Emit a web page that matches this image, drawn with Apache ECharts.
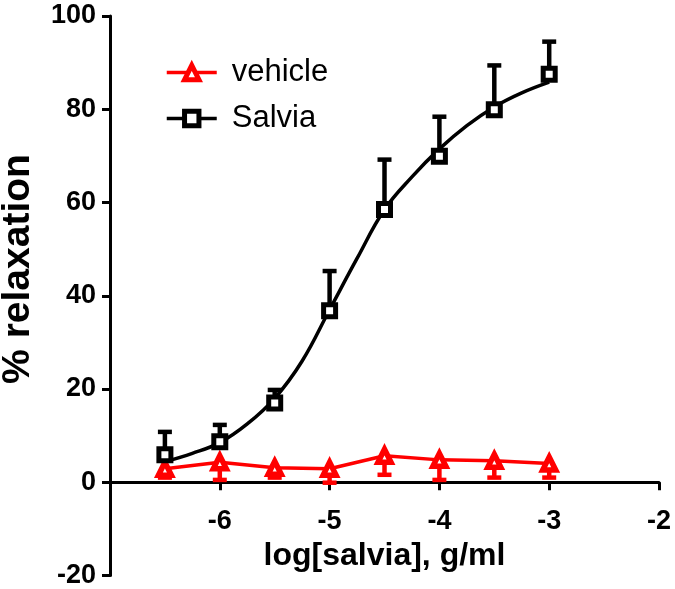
<!DOCTYPE html>
<html>
<head>
<meta charset="utf-8">
<script src="https://cdn.jsdelivr.net/npm/echarts@6/dist/echarts.min.js"></script>
<style>
html,body{margin:0;padding:0;background:#fff;}
#chart{width:675px;height:589px;}
</style>
</head>
<body>
<div id="chart"></div>
<script>
// ---- data ----
var xVals = [-6.5, -6, -5.5, -5, -4.5, -4, -3.5, -3];
var salviaMean = [5.9, 8.7, 17.0, 36.8, 58.5, 69.9, 79.9, 87.5];
var salviaSem  = [4.9, 3.6, 2.8, 8.5, 10.7, 8.5, 9.5, 7.0];
var vehicleMean = [2.9, 4.3, 3.1, 2.9, 5.7, 4.8, 4.6, 4.0];
var vehicleSem  = [1.9, 3.8, 2.1, 3.0, 4.1, 4.3, 3.6, 3.0];
// fitted curve for Salvia
var fitX = [-6.5, -6.25, -6, -5.75, -5.5, -5.25, -5, -4.75, -4.5, -4.25, -4, -3.75, -3.5, -3.25, -3];
var fitY = [4.4, 6.2, 8.5, 12.5, 18.0, 26.0, 37.0, 48.0, 58.5, 65.5, 71.5, 76.5, 80.5, 83.5, 85.8];
var xRange = [-7, -2];
var yRange = [-20, 100];

var FONT = '"Liberation Sans", Arial, Helvetica, sans-serif';
var W = 675, H = 589;
var GRID = { left: 110, right: 16, top: 16, bottom: 13.5 };
// x axis crosses the y axis at 0: shift it up from the grid bottom
var gridH = H - GRID.top - GRID.bottom;
var xOffset = -gridH * (0 - yRange[0]) / (yRange[1] - yRange[0]);

function zip(a, b, c) {
  return a.map(function (v, i) { return c ? [v, b[i], c[i]] : [v, b[i]]; });
}

function errRender(dir, color) {
  return function (params, api) {
    var x = api.value(0), y = api.value(1), e = api.value(2);
    var p0 = api.coord([x, y]);
    var p1 = api.coord([x, y + dir * e]);
    return {
      type: 'group',
      children: [
        { type: 'line', shape: { x1: p0[0], y1: p0[1], x2: p1[0], y2: p1[1] },
          style: { stroke: color, lineWidth: 4.5 } },
        { type: 'line', shape: { x1: p1[0] - 7, y1: p1[1], x2: p1[0] + 7, y2: p1[1] },
          style: { stroke: color, lineWidth: 4.5 } }
      ]
    };
  };
}

var chart = echarts.init(document.getElementById('chart'), null, { renderer: 'canvas' });

chart.setOption({
  animation: false,
  backgroundColor: '#fff',
  grid: { left: GRID.left, right: GRID.right, top: GRID.top, bottom: GRID.bottom,
          containLabel: false, outerBoundsMode: 'none' },
  legend: {
    left: 165, top: 57, orient: 'vertical', padding: 0,
    itemWidth: 50, itemHeight: 18, itemGap: 15,
    textStyle: { fontFamily: FONT, fontSize: 31, color: '#000', padding: [0, 0, 0, 10] },
    data: [
      { name: 'vehicle', itemStyle: { borderWidth: 5 }, lineStyle: { width: 3.5, color: '#ff0000' } },
      { name: 'Salvia', itemStyle: { borderWidth: 5 }, lineStyle: { opacity: 1, width: 3.5, color: '#000' } }
    ]
  },
  graphic: [{
    type: 'text', x: 18, y: 269, rotation: Math.PI / 2,
    style: { text: '% relaxation', font: 'bold 39px ' + FONT, fill: '#000',
             align: 'center', verticalAlign: 'middle' }
  }],
  xAxis: {
    type: 'value', min: xRange[0], max: xRange[1], interval: 1,
    position: 'bottom', offset: xOffset,
    name: 'log[salvia], g/ml', nameLocation: 'middle', nameGap: 58,
    nameTextStyle: { fontFamily: FONT, fontSize: 32, fontWeight: 'bold', color: '#000' },
    axisLine: { onZero: false, lineStyle: { color: '#000', width: 3 } },
    axisTick: { show: true, length: 8, lineStyle: { color: '#000', width: 3 } },
    axisLabel: { showMinLabel: false, margin: 26, fontFamily: FONT, fontSize: 27, fontWeight: 'bold', color: '#000' },
    splitLine: { show: false }
  },
  yAxis: {
    type: 'value', min: yRange[0], max: yRange[1], interval: 20,
    axisLine: { show: true, onZero: false, lineStyle: { color: '#000', width: 3 } },
    axisTick: { show: true, length: 8, lineStyle: { color: '#000', width: 3 } },
    axisLabel: { margin: 14, fontFamily: FONT, fontSize: 27, fontWeight: 'bold', color: '#000' },
    splitLine: { show: false }
  },
  series: [
    {
      name: 'Salvia fit', type: 'line', data: zip(fitX, fitY), smooth: 0.4,
      showSymbol: false, symbol: 'none', z: 2,
      lineStyle: { color: '#000', width: 3.5 }
    },
    {
      name: 'vehicle err', type: 'custom', z: 3,
      renderItem: errRender(-1, '#ff0000'),
      data: zip(xVals, vehicleMean, vehicleSem)
    },
    {
      name: 'vehicle', type: 'line', data: zip(xVals, vehicleMean), z: 4,
      symbol: 'triangle', symbolSize: 13, showSymbol: true,
      lineStyle: { color: '#ff0000', width: 3.5 },
      itemStyle: { color: '#fff', borderColor: '#ff0000', borderWidth: 5.5 }
    },
    {
      name: 'Salvia err', type: 'custom', z: 5,
      renderItem: errRender(1, '#000'),
      data: zip(xVals, salviaMean, salviaSem)
    },
    {
      name: 'Salvia', type: 'line', data: zip(xVals, salviaMean), z: 6,
      symbol: 'rect', symbolSize: 12, showSymbol: true,
      lineStyle: { color: '#000', width: 3.5, opacity: 0 },
      itemStyle: { color: '#fff', borderColor: '#000', borderWidth: 5 }
    }
  ]
});
</script>
</body>
</html>
